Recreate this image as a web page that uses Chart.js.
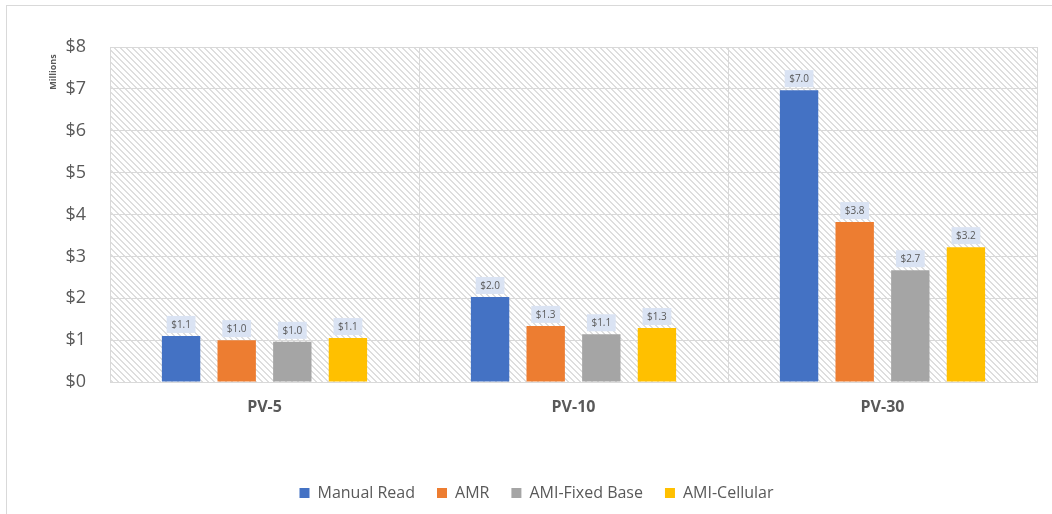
<!DOCTYPE html>
<html>
<head>
<meta charset="utf-8">
<script src="https://cdn.jsdelivr.net/npm/chart.js@4"></script>
<style>
  html, body { margin: 0; padding: 0; background: #ffffff; }
  #wrap { position: relative; width: 1052px; height: 514px; overflow: hidden; }
  #frame { position: absolute; left: 6px; top: 5px; width: 1200px; height: 700px; border: 1px solid #d9d9d9; pointer-events: none; }
  canvas { position: absolute; left: 0; top: 0; }
</style>
</head>
<body>
<div id="wrap">
  <div id="frame"></div>
  <canvas id="c" width="1052" height="514"></canvas>
</div>
<script>
const categories = ['PV-5', 'PV-10', 'PV-30'];
const seriesNames = ['Manual Read', 'AMR', 'AMI-Fixed Base', 'AMI-Cellular'];
const manualRead = [1.10, 2.03, 6.97];
const amr = [1.00, 1.34, 3.82];
const amiFixedBase = [0.96, 1.14, 2.67];
const amiCellular = [1.05, 1.29, 3.22];
const seriesColors = ['#4472c4', '#ed7d31', '#a5a5a5', '#ffc000'];
const yTicks = [0, 1, 2, 3, 4, 5, 6, 7, 8];

const FONT = "'Open Sans', 'Liberation Sans', sans-serif";
const TEXT = '#595959';
const GRID = '#d9d9d9';

function makePattern(ctx) {
  const p = document.createElement('canvas');
  p.width = 6; p.height = 6;
  const g = p.getContext('2d');
  g.fillStyle = '#ffffff';
  g.fillRect(0, 0, 6, 6);
  g.fillStyle = '#dedede';
  for (let y = 0; y < 6; y++) {
    for (let k = 0; k < 2; k++) {
      const x = (y + k) % 6;
      g.fillRect(x, y, 1, 1);
    }
  }
  return ctx.createPattern(p, 'repeat');
}

const hatchPlugin = {
  id: 'hatch',
  beforeDraw(chart) {
    const { ctx, chartArea: a } = chart;
    ctx.save();
    ctx.fillStyle = makePattern(ctx);
    ctx.fillRect(a.left, a.top, a.right - a.left, a.bottom - a.top);
    ctx.restore();
  }
};

const legendShiftPlugin = {
  id: 'legendShift',
  afterLayout(chart) {
    if (chart.legend) {
      chart.legend.left += 18;
      chart.legend.right += 18;
    }
  }
};

const unitPlugin = {
  id: 'unitLabel',
  afterDraw(chart) {
    const ctx = chart.ctx;
    ctx.save();
    ctx.translate(53, 72);
    ctx.rotate(-Math.PI / 2);
    ctx.font = "bold 9px " + FONT;
    ctx.fillStyle = TEXT;
    ctx.textAlign = 'center';
    ctx.textBaseline = 'middle';
    ctx.fillText('Millions', 0, 0);
    ctx.restore();
  }
};

const labelPlugin = {
  id: 'valueLabels',
  afterDatasetsDraw(chart) {
    const ctx = chart.ctx;
    ctx.save();
    ctx.font = "10px " + FONT;
    ctx.textAlign = 'center';
    ctx.textBaseline = 'middle';
    chart.data.datasets.forEach((ds, di) => {
      const meta = chart.getDatasetMeta(di);
      meta.data.forEach((bar, i) => {
        const txt = '$' + ds.data[i].toFixed(1);
        const w = ctx.measureText(txt).width + 9;
        const h = 17;
        const bottom = bar.y - 3;
        ctx.fillStyle = '#dae3f3';
        ctx.fillRect(bar.x - w / 2, bottom - h, w, h);
        ctx.fillStyle = TEXT;
        ctx.fillText(txt, bar.x, bottom - h / 2 + 0.5);
      });
    });
    ctx.restore();
  }
};

const seriesData = [manualRead, amr, amiFixedBase, amiCellular];

new Chart(document.getElementById('c'), {
  type: 'bar',
  data: {
    labels: categories,
    datasets: seriesNames.map((n, i) => ({
      label: n,
      data: seriesData[i],
      backgroundColor: seriesColors[i],
      borderWidth: 0,
      categoryPercentage: 0.72,
      barPercentage: 0.69
    }))
  },
  options: {
    responsive: false,
    animation: false,
    devicePixelRatio: 1,
    layout: { padding: { top: 47, right: 15, left: 0, bottom: 3 } },
    plugins: {
      legend: {
        position: 'bottom',
        labels: {
          boxWidth: 10,
          boxHeight: 10,
          padding: 22,
          color: TEXT,
          font: { family: FONT, size: 16 }
        }
      },
      tooltip: { enabled: false }
    },
    scales: {
      x: {
        grid: { color: GRID, offset: true, drawTicks: false },
        border: { color: GRID },
        ticks: { color: TEXT, padding: 16, font: { family: FONT, size: 16, weight: 'bold' } },
        afterFit(s) { s.height = 81; }
      },
      y: {
        min: 0,
        max: 8,
        afterBuildTicks(s) { s.ticks = yTicks.map(v => ({ value: v })); },
        grid: { color: GRID, drawTicks: false },
        border: { color: GRID },
        ticks: {
          color: TEXT,
          padding: 24,
          font: { family: FONT, size: 18 },
          callback: v => '$' + v
        },
        afterFit(s) { s.width = 110; }
      }
    }
  },
  plugins: [hatchPlugin, legendShiftPlugin, labelPlugin, unitPlugin]
});
</script>
</body>
</html>
